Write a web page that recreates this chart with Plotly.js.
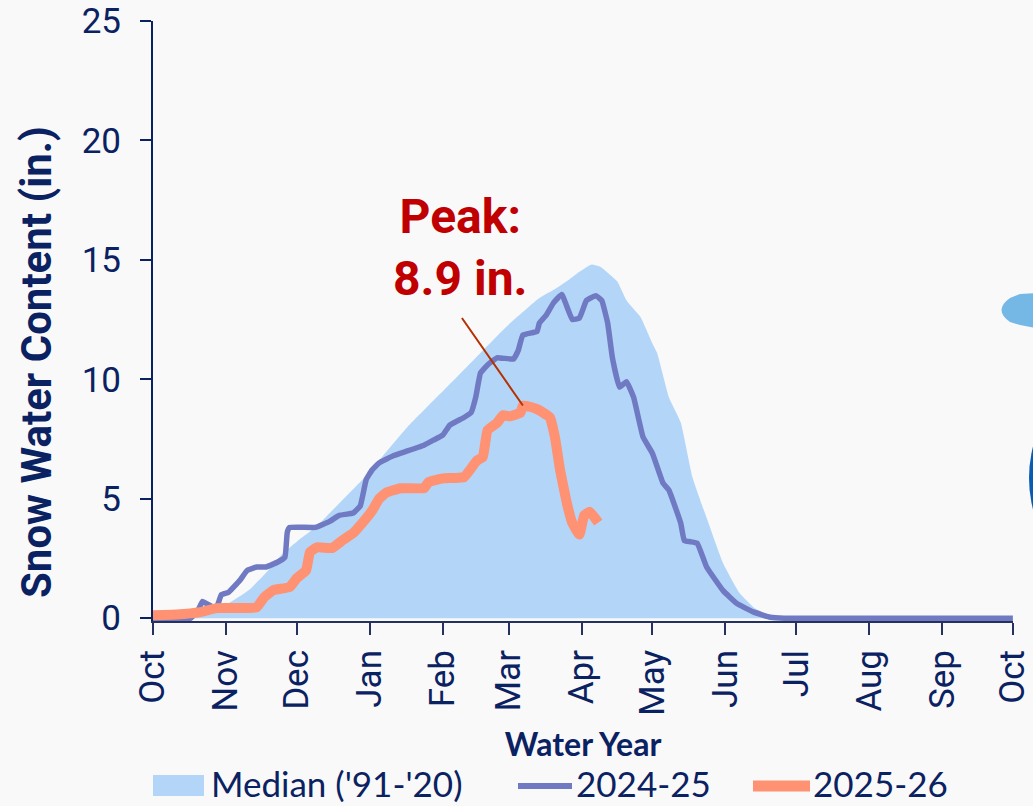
<!DOCTYPE html>
<html>
<head>
<meta charset="utf-8">
<script src="https://cdn.plot.ly/plotly-3.0.1.min.js"></script>
<style>
html,body{margin:0;padding:0;background:#f9f9f9;}
#chart{width:1033px;height:806px;}
</style>
</head>
<body>
<div id="chart"></div>
<script>
// Day of water year (0 = Oct 1)
const monthTickDays = [0,31,61,92,123,151,182,212,243,273,304,335,365];
const monthLabels = ['Oct','Nov','Dec','Jan','Feb','Mar','Apr','May','Jun','Jul','Aug','Sep','Oct'];

const medianDays = [0,10,20,28,35,41,48,55,61,69,74,84,91,96,108,122,136,150,164,171,177,181,186,190,197,201,207,212,214,219,224,229,235,242,249,255,261,268,300,365];
const medianSWE  = [0,0.05,0.15,0.4,0.8,1.2,1.9,2.7,3.2,3.8,4.3,5.3,6.0,6.6,8.0,9.4,10.8,12.2,13.4,13.8,14.2,14.5,14.8,14.7,14.1,13.3,12.6,11.5,11.1,9.25,8.2,5.9,4.2,2.3,1.05,0.45,0.13,0,0,0];

const wy2425Days = [0,16,19,21,25,27,29,32,37,40,44,48,53,56,57,58,69,75,79,85,88,90.5,93,96,102,108,115,119,123,126,132,135,137,139,142,146,153,155,157,163,164,167,170,173.5,178,181,184,188,190.5,193,195,198,201,204,208,212,216.5,219,224,225.5,228,231,235,242,248,255,262,268,365];
const wy2425SWE  = [0,0,0.3,0.7,0.48,0.45,0.98,1.08,1.6,2.0,2.14,2.14,2.35,2.55,3.6,3.8,3.8,4.05,4.3,4.4,4.7,5.8,6.2,6.5,6.8,7.0,7.24,7.45,7.66,8.08,8.4,8.6,9.25,10.26,10.6,10.9,10.85,11.2,11.85,12.0,12.35,12.7,13.2,13.55,12.5,12.56,13.3,13.5,13.3,12.35,10.9,9.67,9.9,9.25,7.58,6.9,5.65,5.36,3.98,3.25,3.2,3.14,2.14,1.15,0.6,0.25,0.04,0,0];

const wy2526Days = [0,10,20,27,44,47,51,58,61,65,66.6,69.6,76,80.6,85,89,93,96,99,105,115,117,123,132,134.5,137.5,140,142,146,148.6,151.5,156,157,160,163,166,168.5,170.6,172.8,175.7,178,181,183,185.5,189];
const wy2526SWE  = [0.12,0.15,0.25,0.42,0.45,0.85,1.17,1.3,1.67,2.0,2.76,2.97,2.93,3.27,3.56,4.0,4.5,5.0,5.25,5.44,5.44,5.7,5.85,5.9,6.2,6.6,6.74,7.87,8.17,8.5,8.45,8.6,8.9,8.85,8.75,8.58,8.4,7.58,6.2,4.8,3.98,3.5,4.3,4.45,4.0];

const peakDay = 157;
const peakValue = 8.9;
const peakLabel = 'Peak:<br>8.9 in.';

const legendNames = ["Median ('91-'20)", '2024-25', '2025-26'];
const xTitle = 'Water Year';
const yTitle = 'Snow Water Content (in.)';

const navy = '#0b2262';
const colMedian = '#b3d6f8';
const col2425 = '#707ac3';
const col2526 = '#fe9273';

const traces = [
  {x: medianDays, y: medianSWE, type:'scatter', mode:'lines', fill:'tozeroy',
   fillcolor: colMedian, line:{width:0, color: colMedian, shape:'spline', smoothing:0.4}, name: legendNames[0], showlegend:false},
  {x: wy2425Days, y: wy2425SWE, type:'scatter', mode:'lines',
   line:{width:5.5, color: col2425, shape:'spline', smoothing:0.3}, name: legendNames[1], showlegend:false},
  {x: wy2526Days, y: wy2526SWE, type:'scatter', mode:'lines',
   line:{width:10, color: col2526, shape:'spline', smoothing:0.3}, name: legendNames[2], showlegend:false}
];

// paper coordinate helpers for decorations (plot area: x 153..1013, y 21..621)
const px = v => (v - 153) / 860;
const py = v => (621 - v) / 600;

const legendY = py(786);
const shapes = [
  {type:'rect', xref:'paper', yref:'paper', x0:px(153), x1:px(204), y0:py(796), y1:py(775), fillcolor: colMedian, line:{width:0}},
  {type:'line', xref:'paper', yref:'paper', x0:px(518), x1:px(572), y0:legendY, y1:legendY, line:{color: col2425, width:6}},
  {type:'line', xref:'paper', yref:'paper', x0:px(753), x1:px(810), y0:legendY, y1:legendY, line:{color: col2526, width:11}},
  // logo fragments at right edge
  {type:'path', xref:'paper', yref:'paper', fillcolor:'#75b8e6', line:{width:0},
   path:'M'+px(1035)+','+py(293)+' L'+px(1020)+','+py(294)+' L'+px(1010)+','+py(298)+' Q'+px(993)+','+py(310)+' '+px(1010)+','+py(322)+' L'+px(1020)+','+py(325)+' L'+px(1035)+','+py(328)+' Z'},
  {type:'circle', xref:'paper', yref:'paper', x0:px(1029), x1:px(1281), y0:py(604), y1:py(352), fillcolor:'#0a5cb3', line:{width:0}}
];

const legFont = {family:'Lato, sans-serif', size:35, color: navy};
const legBottom = py(805);
const annotations = [
  {xref:'paper', yref:'paper', x:px(210), y:legBottom, xanchor:'left', yanchor:'bottom', text: legendNames[0], showarrow:false, font: legFont, borderpad:0},
  {xref:'paper', yref:'paper', x:px(575), y:legBottom, xanchor:'left', yanchor:'bottom', text: legendNames[1], showarrow:false, font: legFont, borderpad:0},
  {xref:'paper', yref:'paper', x:px(812), y:legBottom, xanchor:'left', yanchor:'bottom', text: legendNames[2], showarrow:false, font: legFont, borderpad:0},
  {xref:'paper', yref:'paper', x:px(36), y:py(362), xanchor:'center', yanchor:'middle', textangle:-90, text: yTitle, showarrow:false,
   font:{family:'Roboto, sans-serif', size:42, color: navy, weight:'bold'}},
  {x: peakDay, y: peakValue, xref:'x', yref:'y', text:'', showarrow:true, arrowhead:0, arrowwidth:2, arrowcolor:'#b53100',
   ax:-62, ay:-89, standoff:0, startstandoff:0},
  {x: peakDay, y: peakValue, xref:'x', yref:'y', text: peakLabel, showarrow:false, xshift:-63, yshift:158,
   font:{family:'Roboto, sans-serif', size:48, color:'#c00000', weight:'bold'}, align:'center'}
];

const layout = {
  width:1033, height:806,
  margin:{l:153, r:20, t:21, b:185, pad:0},
  paper_bgcolor:'#f9f9f9', plot_bgcolor:'#f9f9f9',
  showlegend:false,
  hovermode:false,
  xaxis:{
    range:[0,365.05], tickvals: monthTickDays, ticktext: monthLabels, tickangle:-90,
    showgrid:false, zeroline:false, showline:true, linecolor:'#25325f', linewidth:2,
    ticks:'outside', ticklen:12, tickwidth:2, tickcolor:'#25325f',
    tickfont:{family:'Roboto, sans-serif', size:35, color: navy},
    ticklabelstandoff:1, ticklabeloverflow:'allow',
    title:{text: xTitle, standoff:19, font:{family:'Lato, sans-serif', size:32, color: navy, weight:'bold'}},
    layer:'below traces', fixedrange:true
  },
  yaxis:{
    range:[-0.12,25], tickvals:[0,5,10,15,20,25], showgrid:false, zeroline:false,
    showline:true, linecolor: navy, linewidth:2,
    ticks:'outside', ticklen:11, tickwidth:2, tickcolor: navy,
    tickfont:{family:'Roboto, sans-serif', size:35, color: navy},
    ticklabelstandoff:12,
    fixedrange:true
  },
  shapes: shapes,
  annotations: annotations
};

Plotly.newPlot('chart', traces, layout, {displayModeBar:false, staticPlot:true});
</script>
</body>
</html>
